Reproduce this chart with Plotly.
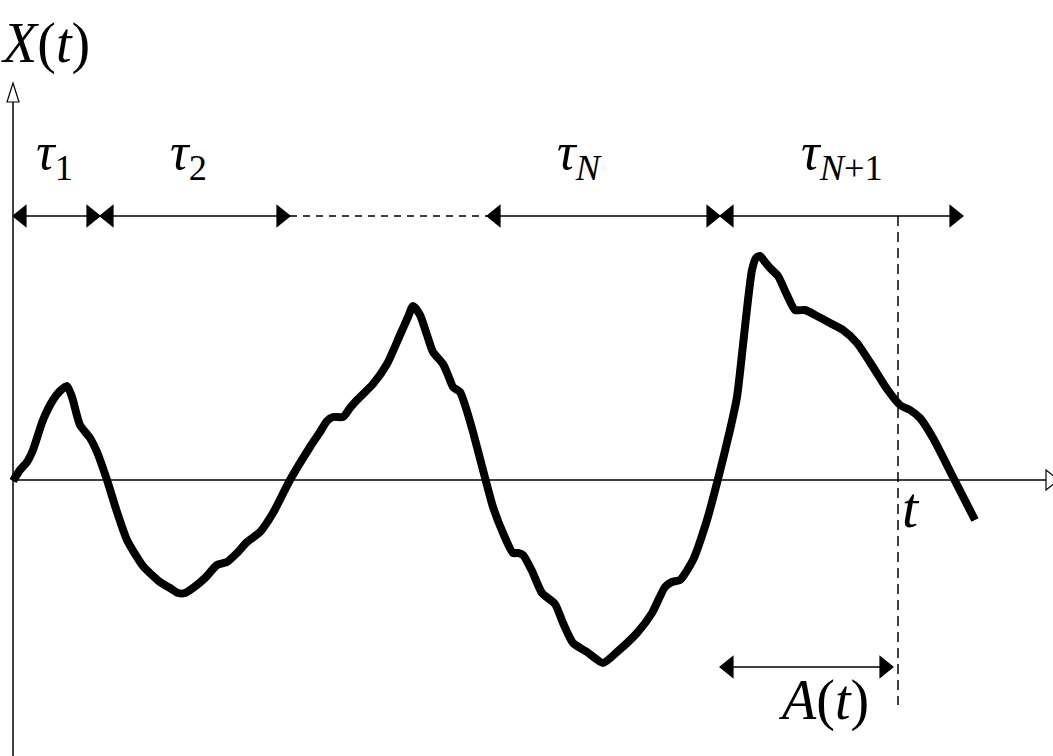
import plotly.graph_objects as go

# ---- data (t: horizontal units, X: vertical units; origin at axes crossing) ----
curve_t = [0, 7, 14, 20, 30, 40, 47, 54, 59, 67, 77, 84, 94, 104, 114, 130, 147, 157, 165, 172,
           180, 192, 204, 214, 224, 234, 247, 260, 277, 297, 307, 314, 320, 330, 337, 344, 360,
           374, 387, 395, 400, 407, 414, 420, 430, 435, 440, 447, 452, 460, 470, 480, 490, 500,
           505, 510, 519, 529, 542, 550, 560, 574, 590, 604, 624, 639, 652, 659, 667, 680, 694,
           705, 717, 724, 730, 735, 739, 743, 747, 752, 757, 765, 774, 782, 792, 804, 817, 830,
           844, 860, 874, 887, 897, 907, 920, 940, 962]
curve_x = [-1, 10, 18, 30, 60, 80, 89, 94, 83, 55, 42, 28, 0, -32, -60, -86, -102, -108, -113,
           -113, -108, -98, -85, -82, -73, -62, -52, -33, 0, 33, 48, 59, 63, 63, 72, 80, 96, 116,
           145, 163, 174, 165, 145, 128, 116, 105, 93, 88, 75, 48, 10, -27, -53, -73, -73, -75,
           -91, -113, -124, -143, -163, -172, -183, -172, -153, -133, -107, -102, -100, -80, -40,
           1, 50, 83, 135, 180, 210, 222, 224, 218, 212, 204, 185, 170, 170, 164, 157, 150, 137,
           113, 91, 75, 70, 62, 42, 3, -40]

interval_start = [0, 87, 474, 707]
interval_end = [87, 277, 707, 950]
interval_labels = ["<i>τ</i><sub>1</sub>", "<i>τ</i><sub>2</sub>",
                   "<i>τ</i><sub><i>N</i></sub>", "<i>τ</i><sub><i>N</i>+1</sub>"]
label_t = [41, 175, 566, 829]
interval_level = 264

t_now = 885
age_start = 707
age_level = -187

axis_t_end = 1046
axis_x_top = 397
axis_x_bottom = -276

FONT = "Liberation Serif"

fig = go.Figure()

# curve
fig.add_trace(go.Scatter(x=curve_t, y=curve_x, mode="lines",
                         line=dict(color="black", width=8, shape="spline", smoothing=0.6),
                         hoverinfo="skip"))

shapes = []

def tri(tip_t, tip_x, direction, length, half, filled, vertical=False):
    if vertical:
        bx = tip_x - direction * length
        path = f"M {tip_t},{tip_x} L {tip_t - half},{bx} L {tip_t + half},{bx} Z"
    else:
        bt = tip_t - direction * length
        path = f"M {tip_t},{tip_x} L {bt},{tip_x + half} L {bt},{tip_x - half} Z"
    return dict(type="path", path=path, xref="x", yref="y",
                fillcolor="black" if filled else "white",
                line=dict(color="black", width=1.2), layer="above")

def seg(t0, x0, t1, x1, dash="solid", width=1.5):
    return dict(type="line", x0=t0, y0=x0, x1=t1, y1=x1, xref="x", yref="y",
                line=dict(color="black", width=width, dash=dash), layer="above")

# axes
shapes.append(seg(0, 0, axis_t_end - 13, 0))
shapes.append(tri(axis_t_end, 0, 1, 13, 10, False))
shapes.append(seg(0, axis_x_bottom, 0, axis_x_top - 19))
shapes.append(tri(0, axis_x_top, 1, 19, 6, False, vertical=True))

# intervals
for s, e in zip(interval_start, interval_end):
    shapes.append(seg(s, interval_level, e, interval_level))
    shapes.append(tri(s, interval_level, -1, 13, 10.5, True))
    shapes.append(tri(e, interval_level, 1, 13, 10.5, True))
# dashed continuation between tau_2 and tau_N
shapes.append(seg(interval_end[1], interval_level, interval_start[2], interval_level, dash="7px,6px"))

# current time t and age A(t)
shapes.append(seg(t_now, interval_level, t_now, age_level - 38, dash="10px,6px"))
shapes.append(seg(age_start, age_level, t_now - 5, age_level))
shapes.append(tri(age_start, age_level, -1, 13, 10.5, True))
shapes.append(tri(t_now - 5, age_level, 1, 13, 10.5, True))

annotations = []
for lt, lab in zip(label_t, interval_labels):
    annotations.append(dict(x=lt, y=interval_level + 61, text=lab, showarrow=False,
                            font=dict(family=FONT, size=52, color="black"),
                            xanchor="center", yanchor="middle"))
annotations.append(dict(x=32, y=437, text="<i>X</i>(<i>t</i>)", showarrow=False,
                        font=dict(family=FONT, size=56, color="black"),
                        xanchor="center", yanchor="middle"))
annotations.append(dict(x=t_now + 13, y=-27, text="<i>t</i>", showarrow=False,
                        font=dict(family=FONT, size=58, color="black"),
                        xanchor="center", yanchor="middle"))
annotations.append(dict(x=810, y=age_level - 33, text="<i>A</i>(<i>t</i>)", showarrow=False,
                        font=dict(family=FONT, size=56, color="black"),
                        xanchor="center", yanchor="middle"))

fig.update_layout(
    width=1053, height=756,
    margin=dict(l=0, r=0, t=0, b=0),
    paper_bgcolor="white", plot_bgcolor="white",
    showlegend=False,
    xaxis=dict(range=[-13, 1040], visible=False, fixedrange=True),
    yaxis=dict(range=[-276, 480], visible=False, fixedrange=True),
    shapes=shapes, annotations=annotations,
)

fig.write_html("out.html", config={"displayModeBar": False},
               post_script="document.body.style.margin='0';document.body.style.overflow='hidden';")
